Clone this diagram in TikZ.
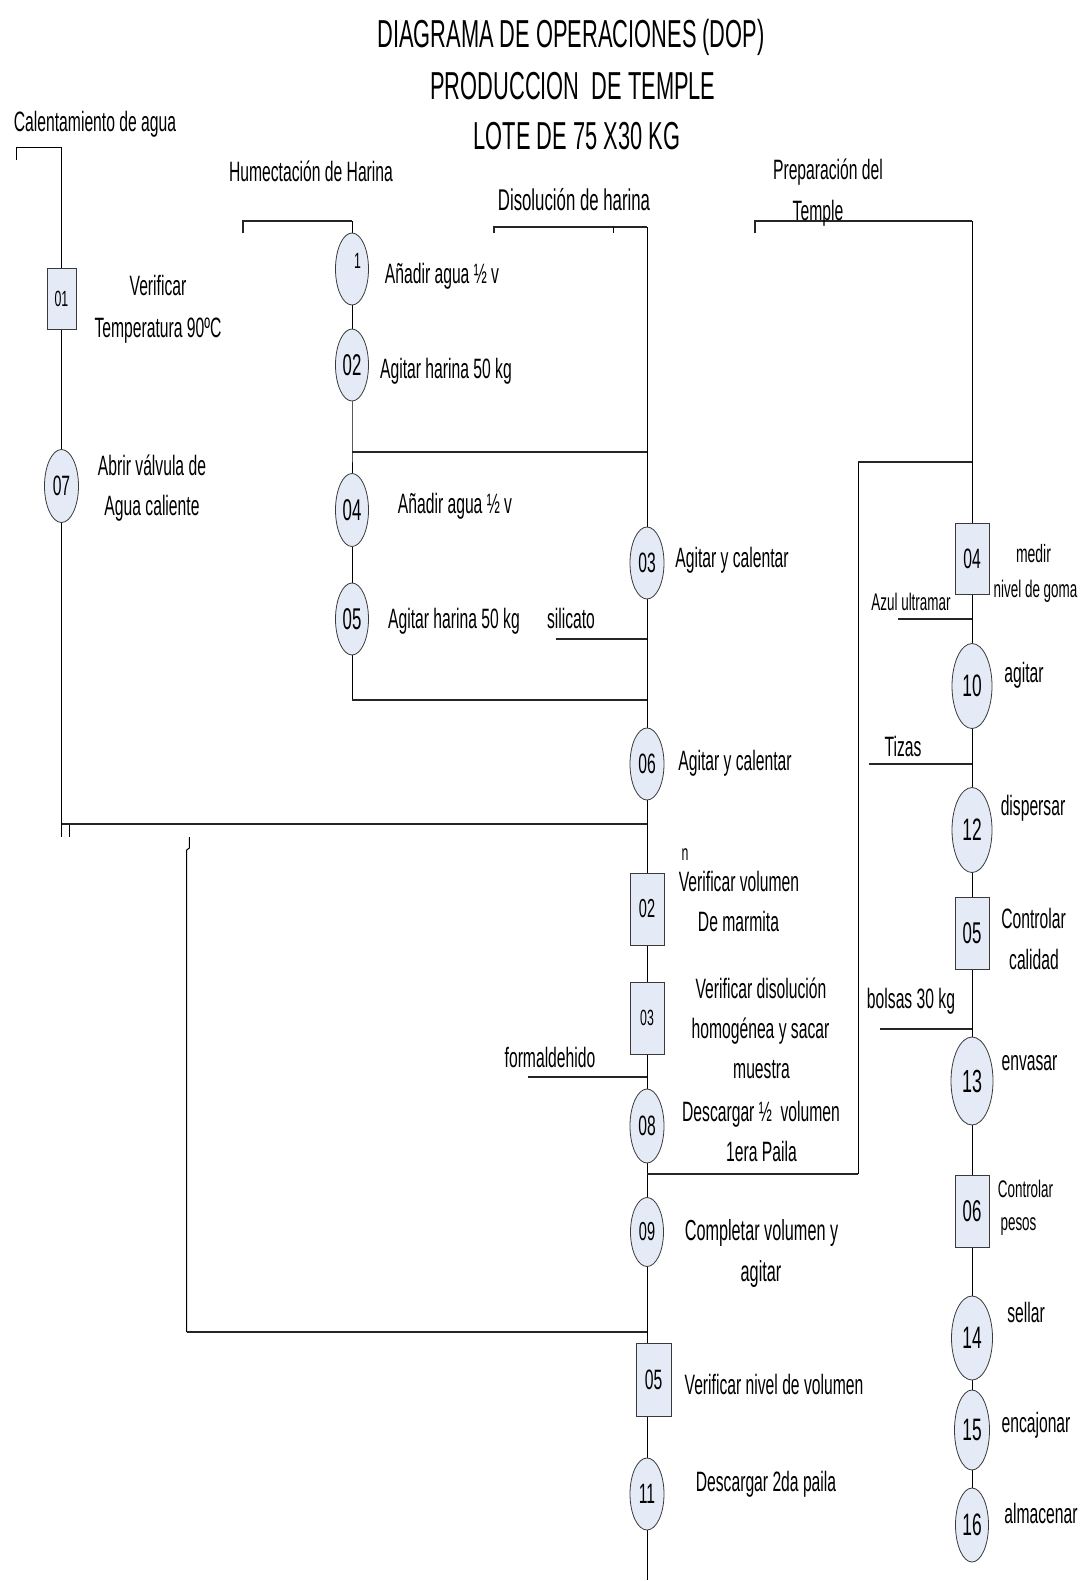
\documentclass[tikz,border=0pt]{standalone}
\usepackage{fontspec}
\setmainfont{Liberation Sans}[FakeStretch=0.56]
\usetikzlibrary{shapes.geometric,backgrounds}
\definecolor{opfill}{HTML}{E4EAF6}
\definecolor{opline}{HTML}{3A3A3A}
\newcommand{\fsz}[1]{\fontsize{#1}{#1}\selectfont}
\tikzset{
  opov/.style={ellipse, draw=opline, fill=opfill, line width=0.8pt, inner sep=0pt, font=\fsz{28}},
  insp/.style={rectangle, draw=opline, fill=opfill, line width=0.8pt, inner sep=0pt, font=\fsz{28}},
  lbl/.style={anchor=base, inner sep=0pt, font=\fsz{28}},
  conn/.style={line width=1pt, black},
  hbar/.style={line width=1.7pt, black!85}
}
\begin{document}
\begin{tikzpicture}[x=1pt,y=-1pt]
\useasboundingbox (0,0) rectangle (1090,1581);

% ---------- titles ----------
\node[lbl, font=\fsz{39}] (t1) at (571,48) {DIAGRAMA DE OPERACIONES (DOP)};
\node[lbl, font=\fsz{39}] (t2) at (573,100) {PRODUCCION\ \ DE TEMPLE};
\node[lbl, font=\fsz{39}] (t3) at (577,150) {LOTE DE 75 X30 KG};

% ---------- section headers ----------
\node[lbl] (hcal) at (95,132) {Calentamiento de agua};
\node[lbl] (hhum) at (311,182) {Humectación de Harina};
\node[lbl, font=\fsz{30}] (hdis) at (574,210) {Disolución de harina};
\node[lbl] (hpre1) at (828,180) {Preparación del};
\node[lbl] (hpre2) at (818,220) {Temple};

% ---------- left column ----------
\node[insp, minimum width=29, minimum height=61, font=\fsz{22}] (b01) at (61.5,298.5) {01};
\node[lbl] (l01a) at (158,295) {Verificar};
\node[lbl] (l01b) at (158,337) {Temperatura 90ºC};
\node[opov, minimum width=34, minimum height=73] (e07) at (61.5,486) {07};
\node[lbl] (l07a) at (152,475) {Abrir válvula de};
\node[lbl] (l07b) at (152,515) {Agua caliente};

% ---------- humectacion column ----------
\node[opov, minimum width=33, minimum height=72] (e1) at (352,269) {};
\node[lbl, font=\fsz{22}] (n1) at (357.5,268) {1};
\node[lbl] (l1) at (442,283) {Añadir agua ½ v};
\node[opov, minimum width=33, minimum height=72, font=\fsz{30}] (e2) at (352,365) {02};
\node[lbl] (l2) at (446,378) {Agitar harina 50 kg};
\node[opov, minimum width=33, minimum height=73, font=\fsz{30}] (e4) at (352,510) {04};
\node[lbl] (l4) at (455,513) {Añadir agua ½ v};
\node[opov, minimum width=33, minimum height=72, font=\fsz{30}] (e5) at (352,619) {05};
\node[lbl] (l5) at (454,628) {Agitar harina 50 kg};

% ---------- disolucion column ----------
\node[opov, minimum width=34, minimum height=72] (e3) at (647,563) {03};
\node[lbl] (l3) at (732,567) {Agitar y calentar};
\node[lbl] (lsil) at (571,628) {silicato};
\node[opov, minimum width=34, minimum height=72] (e6) at (647,764) {06};
\node[lbl] (l6) at (735,770) {Agitar y calentar};
\node[lbl, font=\fsz{22}] (ln) at (685,860) {n};
\node[insp, minimum width=34, minimum height=72, font=\fsz{26}] (b02) at (647,909) {02};
\node[lbl] (lb02a) at (739,891) {Verificar volumen};
\node[lbl] (lb02b) at (738.5,931) {De marmita};
\node[insp, minimum width=34, minimum height=72, font=\fsz{22}] (b03) at (647,1018) {03};
\node[lbl] (lb03a) at (761,998) {Verificar disolución};
\node[lbl] (lb03b) at (760.5,1038) {homogénea y sacar};
\node[lbl] (lb03c) at (761.5,1078) {muestra};
\node[lbl] (lform) at (550,1067) {formaldehido};
\node[opov, minimum width=34, minimum height=74] (e08) at (647,1126) {08};
\node[lbl] (l08a) at (761,1121) {Descargar ½\ \ volumen};
\node[lbl] (l08b) at (761.5,1161) {1era Paila};
\node[opov, minimum width=33, minimum height=69, font=\fsz{26}] (e09) at (647,1232) {09};
\node[lbl, font=\fsz{29}] (l09a) at (761.5,1240) {Completar volumen y};
\node[lbl, font=\fsz{29}] (l09b) at (761,1281) {agitar};
\node[insp, minimum width=35, minimum height=73] (b05c) at (653.5,1380) {05};
\node[lbl] (lb05c) at (774,1394) {Verificar nivel de volumen};
\node[opov, minimum width=34, minimum height=72] (e11) at (647,1494) {11};
\node[lbl] (l11) at (766,1491) {Descargar 2da paila};

% ---------- preparacion column ----------
\node[insp, minimum width=34, minimum height=71] (b04r) at (972,558.5) {04};
\node[lbl, font=\fsz{25}] (lb04a) at (1033.5,562) {medir};
\node[lbl, font=\fsz{24}] (lb04b) at (1035.5,597) {nivel de goma};
\node[lbl, font=\fsz{24}] (lazul) at (911,610) {Azul ultramar};
\node[opov, minimum width=40, minimum height=85, font=\fsz{31}] (e10) at (972,686) {10};
\node[lbl] (l10) at (1024,682) {agitar};
\node[lbl] (ltiz) at (903,756) {Tizas};
\node[opov, minimum width=40, minimum height=85, font=\fsz{31}] (e12) at (972,830) {12};
\node[lbl] (l12) at (1033,815) {dispersar};
\node[insp, minimum width=34, minimum height=72, font=\fsz{30}] (b05r) at (972,933) {05};
\node[lbl] (lb05a) at (1033.5,928) {Controlar};
\node[lbl] (lb05b) at (1034,969) {calidad};
\node[lbl] (lbol) at (911,1008) {bolsas 30 kg};
\node[opov, minimum width=42, minimum height=88, font=\fsz{32}] (e13) at (972,1081) {13};
\node[lbl] (l13) at (1029.5,1070) {envasar};
\node[insp, minimum width=34, minimum height=72, font=\fsz{30}] (b06r) at (972,1211) {06};
\node[lbl, font=\fsz{24}] (lb06a) at (1025.5,1197) {Controlar};
\node[lbl, font=\fsz{24}] (lb06b) at (1018.5,1230) {pesos};
\node[opov, minimum width=41, minimum height=84, font=\fsz{31}] (e14) at (972,1338) {14};
\node[lbl] (l14) at (1026,1322) {sellar};
\node[opov, minimum width=35, minimum height=80, font=\fsz{31}] (e15) at (972,1430) {15};
\node[lbl] (l15) at (1036,1432) {encajonar};
\node[opov, minimum width=33, minimum height=74, font=\fsz{31}] (e16) at (972,1525) {16};
\node[lbl] (l16) at (1041,1523) {almacenar};

% ---------- connectors ----------
\begin{scope}[on background layer]
\fill[white] (0,0) rectangle (1090,1581);
% left
\coordinate (cb0) at (16,160); \coordinate (cb1) at (16,148); \coordinate (cb2) at (61.5,148);
\draw[conn] (cb0) -- (cb1) -- (cb2) -- (b01.north);
\draw[conn] (b01.south) -- (e07.north);
\coordinate (jL) at (61.5,824); \coordinate (jLt) at (61.5,837);
\coordinate (tk0) at (69,824); \coordinate (tk1) at (69,837);
\draw[conn] (e07.south) -- (jL) -- (jLt);
\draw[conn] (tk0) -- (tk1);
\coordinate (jD3) at (647,824);
\draw[hbar] (jL) -- (jD3);
% humectacion
\coordinate (hb0) at (243,233); \coordinate (hb1) at (243,221); \coordinate (hb2) at (352,221);
\draw[hbar] (hb0) -- (hb1) -- (hb2);
\draw[conn] (hb2) -- (e1.north);
\draw[conn] (e1.south) -- (e2.north);
\coordinate (jH1) at (352,452); \coordinate (jD1) at (647,452);
\draw[conn] (e2.south) -- (jH1) -- (e4.north);
\draw[hbar] (jH1) -- (jD1);
\draw[conn] (e4.south) -- (e5.north);
\coordinate (jH2) at (352,700); \coordinate (jD2) at (647,700);
\draw[conn] (e5.south) -- (jH2);
\draw[hbar] (jH2) -- (jD2);
% disolucion
\coordinate (db0) at (494,233); \coordinate (db1) at (494,227); \coordinate (db2) at (647,227);
\coordinate (dt0) at (613.5,227); \coordinate (dt1) at (613.5,233);
\draw[hbar] (db0) -- (db1) -- (db2);
\draw[conn] (dt0) -- (dt1);
\draw[conn] (db2) -- (e3.north);
\draw[conn] (e3.south) -- (e6.north);
\coordinate (sil0) at (556,639); \coordinate (sil1) at (647,639);
\draw[hbar] (sil0) -- (sil1);
\draw[conn] (e6.south) -- (b02.north);
\draw[conn] (b02.south) -- (b03.north);
\draw[conn] (b03.south) -- (e08.north);
\coordinate (fo0) at (527.6,1077); \coordinate (fo1) at (647,1077);
\draw[hbar] (fo0) -- (fo1);
\draw[conn] (e08.south) -- (e09.north);
\coordinate (jD4) at (647,1174); \coordinate (jR1) at (858,1174);
\coordinate (jR2) at (858,462); \coordinate (jR3) at (972,462);
\draw[hbar] (jD4) -- (jR1);
\draw[conn] (jR1) -- (jR2);
\draw[hbar] (jR2) -- (jR3);
\draw[conn] (e09.south) -- (e11.north);
\coordinate (lk0) at (189.4,837); \coordinate (lk1) at (189.4,848);
\coordinate (lk2) at (186.7,850); \coordinate (lk3) at (186.7,1332);
\coordinate (jD5) at (647,1332);
\draw[conn] (lk0) -- (lk1) -- (lk2) -- (lk3);
\draw[hbar] (lk3) -- (jD5);
\coordinate (endD) at (647,1580);
\draw[conn] (e11.south) -- (endD);
% preparacion
\coordinate (pb0) at (755,233); \coordinate (pb1) at (755,221); \coordinate (pb2) at (972,221);
\draw[hbar] (pb0) -- (pb1) -- (pb2);
\draw[conn] (pb2) -- (b04r.north);
\draw[conn] (b04r.south) -- (e10.north);
\coordinate (az0) at (898,619); \coordinate (az1) at (972,619);
\draw[hbar] (az0) -- (az1);
\draw[conn] (e10.south) -- (e12.north);
\coordinate (tz0) at (869,764); \coordinate (tz1) at (972,764);
\draw[hbar] (tz0) -- (tz1);
\draw[conn] (e12.south) -- (b05r.north);
\draw[conn] (b05r.south) -- (e13.north);
\coordinate (bo0) at (880,1029); \coordinate (bo1) at (972,1029);
\draw[hbar] (bo0) -- (bo1);
\draw[conn] (e13.south) -- (b06r.north);
\draw[conn] (b06r.south) -- (e14.north);
\draw[conn] (e14.south) -- (e15.north);
\draw[conn] (e15.south) -- (e16.north);
\end{scope}
\end{tikzpicture}
\end{document}
